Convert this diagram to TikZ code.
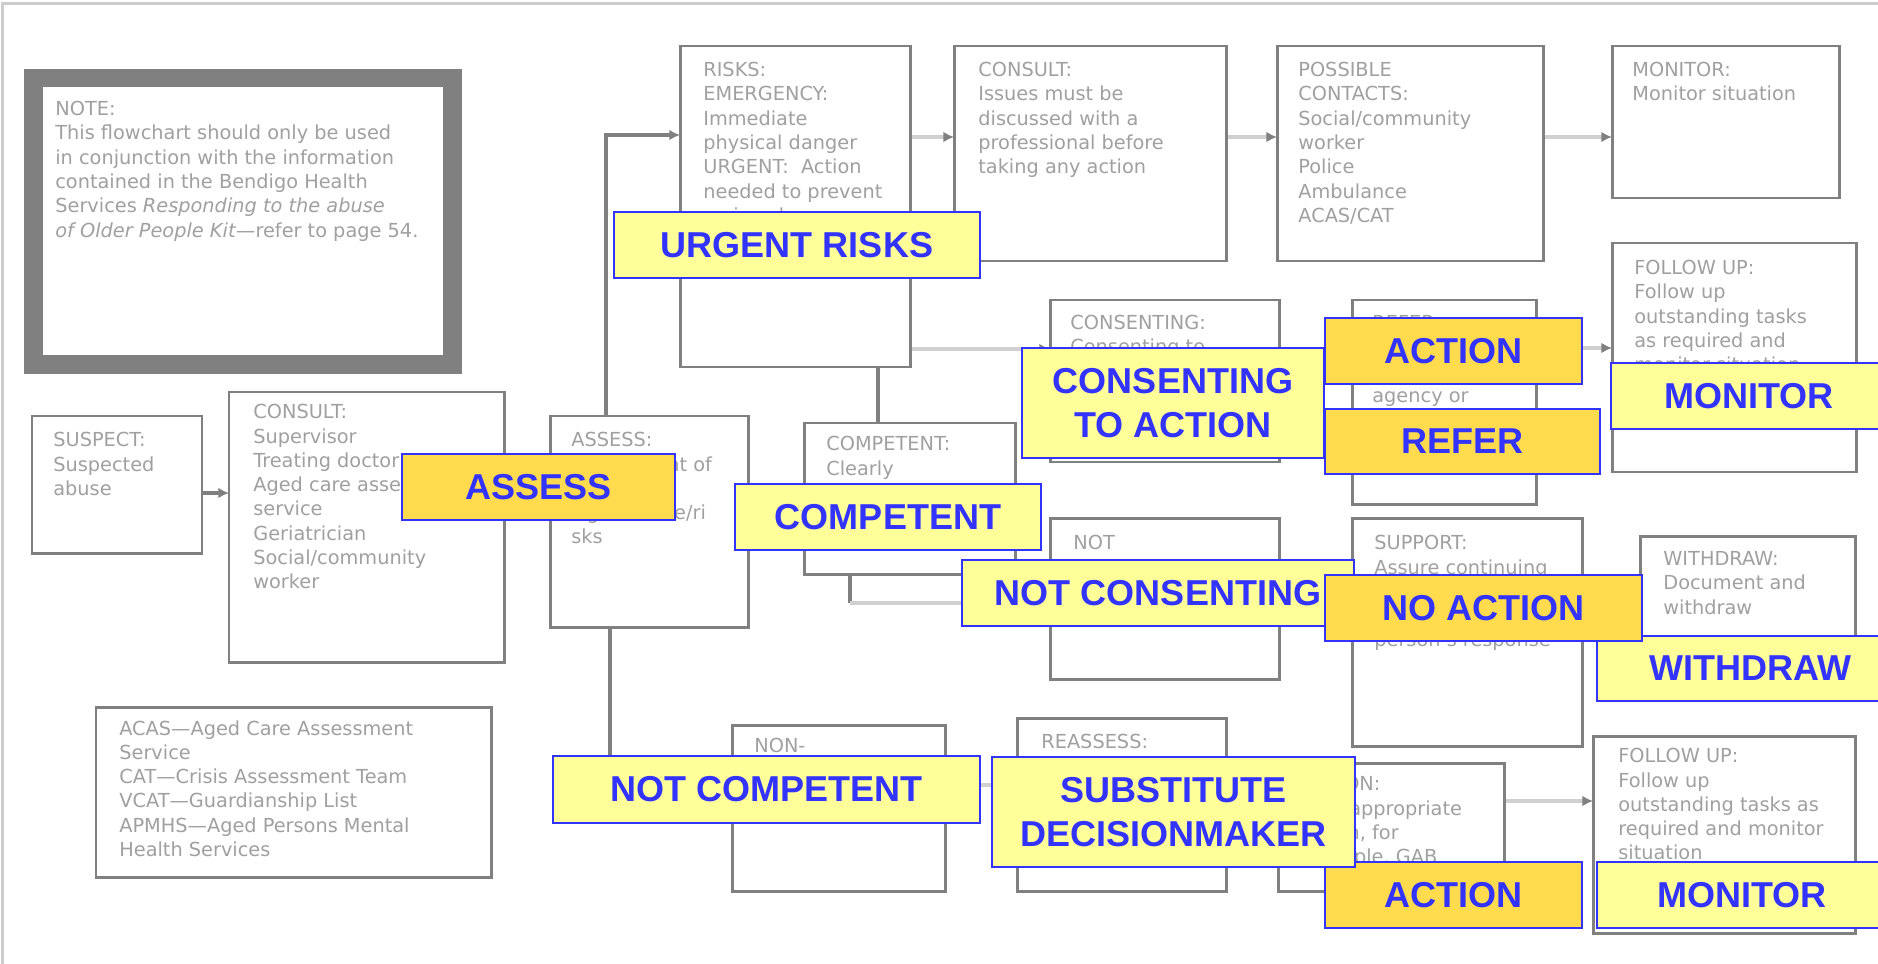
\documentclass[tikz,border=0pt]{standalone}
\usepackage{fontspec}
\setmainfont{DejaVu Sans}
\newfontfamily\labfont{Liberation Sans}
\usetikzlibrary{arrows.meta}
\pgfdeclarelayer{back}
\pgfsetlayers{back,main}
\newdimen\pu \pu=0.02cm

\definecolor{boxgray}{HTML}{808080}
\definecolor{txtgray}{HTML}{A0A0A0}
\definecolor{linegray}{HTML}{D0D0D0}
\definecolor{framegray}{HTML}{CCCCCC}
\definecolor{labblue}{HTML}{3333FF}
\definecolor{labyellow}{HTML}{FFFF99}
\definecolor{labgold}{HTML}{FFDB4D}

\tikzset{
  gbox/.style 2 args = {% grey step box, width and height in pixels
    draw=boxgray, line width=1.7pt, fill=white, anchor=north west,
    minimum width=#1*\pu, minimum height=#2*\pu, inner sep=0pt, outer sep=0pt,
  },
  btext/.style = {% small grey text inside a box
    anchor=north west, align=left, inner sep=0pt, text=txtgray,
    font=\fontsize{11}{13.83}\selectfont,
  },
  lab/.style 2 args = {% big yellow label
    draw=labblue, line width=0.8pt, fill=labyellow, text=labblue,
    anchor=north west, minimum width=#1*\pu, minimum height=#2*\pu,
    inner sep=0pt, outer sep=0pt, align=center,
    font={\labfont\bfseries\fontsize{20.5}{25}\selectfont},
  },
  glab/.style 2 args = {lab={#1}{#2}, fill=labgold},
  dline/.style = {draw=boxgray, line width=1.8pt},
  lline/.style = {draw=linegray, line width=2.3pt},
  arr/.style = {-{Latex[length=6pt,width=6pt,color=boxgray]}},
}

\begin{document}
\begin{tikzpicture}[x=0.02cm, y=-0.02cm]
  \useasboundingbox (0,0) rectangle (1878,963);
  \clip (0,0) rectangle (1878,963);

  % note and legend
  \node[draw=boxgray, line width=10.8pt, anchor=north west, inner sep=0pt, outer sep=0pt,
        minimum width=419*\pu, minimum height=286.5*\pu] (note) at (33.5,78) {};
  \node[btext] (note-t) at (55,101) {NOTE:\\This flowchart should only be used\\in conjunction with the information\\contained in the Bendigo Health\\Services \textit{Responding to the abuse}\\\textit{of Older People Kit}—refer to page 54.};
  \node[gbox={395}{170}] (legend) at (96,707) {};
  \node[btext] (legend-t) at (119,720) {ACAS—Aged Care Assessment\\Service\\CAT—Crisis Assessment Team\\VCAT—Guardianship List\\APMHS—Aged Persons Mental\\Health Services};

  % left column
  \node[gbox={170}{137}] (suspect) at (32,416) {};
  \node[btext] (suspect-t) at (53,432) {SUSPECT:\\Suspected\\abuse};
  \node[gbox={275}{270}] (consultL) at (229,392) {};
  \node[btext] (consultL-t) at (253,404) {CONSULT:\\Supervisor\\Treating doctor\\Aged care assessment\\service\\Geriatrician\\Social/community\\worker};
  \node[gbox={198}{211}] (assess) at (550,416) {};
  \node[btext] (assess-t) at (571,432) {ASSESS:\\Assessment of\\level of\\significance/ri\\sks};

  % top row
  \node[gbox={230}{321}] (risks) at (680,46) {};
  \node[btext] (risks-t) at (703,62) {RISKS:\\EMERGENCY:\\Immediate\\physical danger\\URGENT:~~Action\\needed to prevent\\serious harm};
  \node[gbox={272}{215}] (consultT) at (954,46) {};
  \node[btext] (consultT-t) at (978,62) {CONSULT:\\Issues must be\\discussed with a\\professional before\\taking any action};
  \node[gbox={266}{215}] (contacts) at (1277,46) {};
  \node[btext] (contacts-t) at (1298,62) {POSSIBLE\\CONTACTS:\\Social/community\\worker\\Police\\Ambulance\\ACAS/CAT};
  \node[gbox={227}{152}] (monitorT) at (1612,46) {};
  \node[btext] (monitorT-t) at (1632,62) {MONITOR:\\Monitor situation};

  % competent branch
  \node[gbox={211}{151}] (competent) at (804,423) {};
  \node[btext] (competent-t) at (826,436) {COMPETENT:\\Clearly\\understands\\the situation};
  \node[gbox={229}{162}] (consenting) at (1050,300) {};
  \node[btext] (consenting-t) at (1070,315) {CONSENTING:\\Consenting to\\action};
  \node[gbox={184}{204}] (refer) at (1352,300) {};
  \node[btext] (refer-t) at (1372,315) {REFER:\\Refer to\\appropriate\\agency or\\service};
  \node[gbox={244}{229}] (followup1) at (1612,243) {};
  \node[btext] (followup1-t) at (1634,260) {FOLLOW UP:\\Follow up\\outstanding tasks\\as required and\\monitor situation};
  \node[gbox={229}{161}] (notcons) at (1050,518) {};
  \node[btext] (notcons-t) at (1073,535) {NOT\\CONSENTING:\\Does not consent\\to action};
  \node[gbox={230}{228}] (support) at (1352,518) {};
  \node[btext] (support-t) at (1374,535) {SUPPORT:\\Assure continuing\\support and\\monitor the\\person's response};
  \node[gbox={215}{130}] (withdraw) at (1640,536) {};
  \node[btext] (withdraw-t) at (1663,551) {WITHDRAW:\\Document and\\withdraw};

  % not competent branch
  \node[gbox={213}{166}] (non) at (732,725) {};
  \node[btext] (non-t) at (754,738) {NON-\\COMPETENT:\\Lacks capacity};
  \node[gbox={209}{173}] (reassess) at (1017,718) {};
  \node[btext] (reassess-t) at (1041,734) {REASSESS:\\Reassess\\competence\\regularly};
  \node[gbox={226}{128}] (actionB) at (1278,763) {};
  \node[btext] (actionB-t) at (1300,776) {ACTION:\\Take appropriate\\action, for\\example, GAB};
  \node[gbox={262}{197}] (followup2) at (1593,736) {};
  \node[btext] (followup2-t) at (1618,748) {FOLLOW UP:\\Follow up\\outstanding tasks as\\required and monitor\\situation};

  % connectors go under the boxes
  \begin{pgfonlayer}{back}
    \fill[white] (0,0) rectangle (1878,963);
    \draw[framegray, line width=1.6pt] (2.5,1000) |- (1950,3.5);
    \coordinate (j0) at (0,493);
    \draw[dline, arr] (suspect.east |- j0) -- (consultL.west |- j0);
    \coordinate (j1) at (606,135);
    \draw[dline, arr] (assess.north -| j1) |- (risks.west |- j1);
    \coordinate (toprow) at (0,137);
    \foreach \a/\b in {risks/consultT, consultT/contacts, contacts/monitorT}
      \draw[lline, arr] (\a.east |- toprow) -- (\b.west |- toprow);
    \coordinate (j2) at (878,349);
    \draw[dline] (competent.north -| j2) -- (j2);
    \draw[lline, arr] (j2) -- (consenting.west |- j2);
    \coordinate (j3) at (850,603);
    \draw[dline] (competent.south -| j3) -- (j3);
    \draw[lline, arr] (j3) -- (notcons.west |- j3);
    \coordinate (j4) at (610,790);
    \draw[dline, arr] (assess.south -| j4) |- (non.west |- j4);
    \coordinate (j5) at (0,785);
    \draw[lline, arr] (non.east |- j5) -- (reassess.west |- j5);
    \coordinate (j6) at (0,348);
    \draw[lline, arr] (refer.east |- j6) -- (followup1.west |- j6);
    \coordinate (j7) at (0,801);
    \draw[lline, arr] (actionB.east |- j7) -- (followup2.west |- j7);
  \end{pgfonlayer}

  % labels on top
  \node[lab={366}{66}] (urgentL) at (614,212) {URGENT RISKS};
  \node[glab={273}{66}] (assessL) at (402,454) {ASSESS};
  \node[lab={306}{66}] (competentL) at (735,484) {COMPETENT};
  \node[lab={302}{110}] (consentL) at (1022,348) {CONSENTING\\TO ACTION};
  \node[glab={257}{66}] (actionL1) at (1325,318) {ACTION};
  \node[glab={275}{65}] (referL) at (1325,409) {REFER};
  \node[lab={276}{66}] (monitorL1) at (1611,363) {MONITOR};
  \node[lab={392}{66}] (notconsL) at (962,560) {NOT CONSENTING};
  \node[lab={306}{65}] (withdrawL) at (1597,636) {WITHDRAW};
  \node[glab={317}{66}] (noactionL) at (1325,575) {NO ACTION};
  \node[lab={427}{67}] (notcompL) at (553,756) {NOT COMPETENT};
  \node[glab={257}{66}] (actionL2) at (1325,862) {ACTION};
  \node[lab={363}{110}] (substL) at (992,757) {SUBSTITUTE\\DECISIONMAKER};
  \node[lab={290}{66}] (monitorL2) at (1597,862) {MONITOR};
\end{tikzpicture}
\end{document}
